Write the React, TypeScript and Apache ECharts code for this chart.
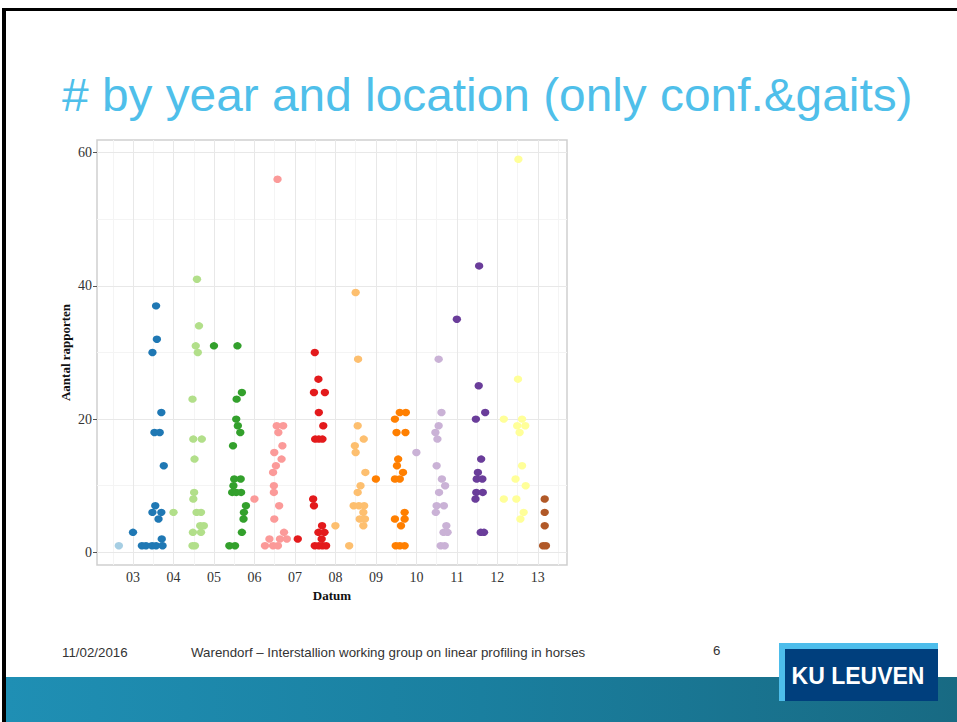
import React, { useEffect, useRef } from 'react';
import * as echarts from 'echarts';

// ---- data (x = date as fractional year, y = Aantal rapporten) ----
const yearCodes = ['02', '03', '04', '05', '06', '07', '08', '09', '10', '11', '12', '13'];

const pts02 = [[2002.65, 1]];
const pts03 = [
  [2003.57, 37], [2003.59, 32], [2003.48, 30], [2003.70, 21], [2003.53, 18], [2003.66, 18],
  [2003.76, 13], [2003.55, 7], [2003.48, 6], [2003.70, 6], [2003.63, 5], [2003.00, 3],
  [2003.71, 2], [2003.22, 1], [2003.32, 1], [2003.47, 1], [2003.57, 1], [2003.73, 1],
];
const pts04 = [
  [2004.58, 41], [2004.63, 34], [2004.55, 31], [2004.60, 30], [2004.47, 23], [2004.49, 17],
  [2004.70, 17], [2004.52, 14], [2004.51, 9], [2004.49, 8], [2004.00, 6], [2004.57, 6],
  [2004.68, 6], [2004.66, 4], [2004.75, 4], [2004.48, 3], [2004.68, 3], [2004.47, 1], [2004.53, 1],
];
const pts05 = [
  [2005.00, 31], [2005.58, 31], [2005.69, 24], [2005.56, 23], [2005.55, 20], [2005.59, 19],
  [2005.65, 18], [2005.47, 16], [2005.50, 11], [2005.66, 11], [2005.48, 10], [2005.45, 9],
  [2005.55, 9], [2005.67, 9], [2005.79, 7], [2005.74, 6], [2005.73, 5], [2005.69, 3],
  [2005.38, 1], [2005.52, 1],
];
const pts06 = [
  [2006.57, 56], [2006.55, 19], [2006.71, 19], [2006.59, 18], [2006.69, 16], [2006.49, 15],
  [2006.67, 14], [2006.53, 13], [2006.46, 12], [2006.48, 10], [2006.48, 9], [2006.00, 8],
  [2006.61, 7], [2006.49, 5], [2006.73, 3], [2006.37, 2], [2006.63, 2], [2006.80, 2],
  [2006.26, 1], [2006.46, 1], [2006.58, 1],
];
const pts07 = [
  [2007.49, 30], [2007.58, 26], [2007.47, 24], [2007.74, 24], [2007.59, 21], [2007.70, 19],
  [2007.50, 17], [2007.59, 17], [2007.68, 17], [2007.45, 8], [2007.47, 7], [2007.67, 4],
  [2007.58, 3], [2007.73, 3], [2007.66, 2], [2007.07, 2], [2007.49, 1], [2007.59, 1],
  [2007.68, 1], [2007.77, 1],
];
const pts08 = [
  [2008.50, 39], [2008.56, 29], [2008.55, 19], [2008.70, 17], [2008.48, 16], [2008.50, 15],
  [2008.74, 12], [2008.62, 10], [2008.55, 9], [2008.45, 7], [2008.58, 7], [2008.71, 7],
  [2008.69, 6], [2008.60, 5], [2008.73, 5], [2008.69, 4], [2008.00, 4], [2008.34, 1],
];
const pts09 = [
  [2009.00, 11], [2009.59, 21], [2009.74, 21], [2009.47, 20], [2009.51, 18], [2009.73, 18],
  [2009.55, 14], [2009.52, 13], [2009.67, 12], [2009.47, 11], [2009.59, 11], [2009.71, 6],
  [2009.47, 5], [2009.71, 5], [2009.62, 4], [2009.49, 1], [2009.59, 1], [2009.71, 1],
];
const pts10 = [
  [2010.55, 29], [2010.62, 21], [2010.55, 19], [2010.47, 18], [2010.52, 17], [2010.00, 15],
  [2010.50, 13], [2010.63, 11], [2010.71, 10], [2010.56, 9], [2010.50, 7], [2010.68, 7],
  [2010.48, 6], [2010.74, 4], [2010.67, 3], [2010.77, 3], [2010.60, 1], [2010.70, 1],
];
const pts11 = [
  [2011.55, 43], [2011.00, 35], [2011.54, 25], [2011.70, 21], [2011.47, 20], [2011.60, 14],
  [2011.52, 12], [2011.49, 11], [2011.63, 11], [2011.48, 9], [2011.64, 9], [2011.46, 8],
  [2011.59, 3], [2011.67, 3],
];
const pts12 = [
  [2012.52, 59], [2012.51, 26], [2012.16, 20], [2012.61, 20], [2012.49, 19], [2012.69, 19],
  [2012.55, 18], [2012.61, 13], [2012.45, 11], [2012.70, 10], [2012.16, 8], [2012.47, 8],
  [2012.65, 6], [2012.57, 5],
];
const pts13 = [[2013.17, 8], [2013.17, 6], [2013.17, 4], [2013.13, 1], [2013.20, 1]];

const seriesPoints = [pts02, pts03, pts04, pts05, pts06, pts07, pts08, pts09, pts10, pts11, pts12, pts13];

const xTicks = [2003, 2004, 2005, 2006, 2007, 2008, 2009, 2010, 2011, 2012, 2013];
const xMinor = [2002.5, 2003.5, 2004.5, 2005.5, 2006.5, 2007.5, 2008.5, 2009.5, 2010.5, 2011.5, 2012.5, 2013.5];
const yTicks = [0, 20, 40, 60];
const yMinor = [10, 30, 50];

// ---- styles ----
const paired = ['#A6CEE3', '#1F78B4', '#B2DF8A', '#33A02C', '#FB9A99', '#E31A1C',
  '#FDBF6F', '#FF7F00', '#CAB2D6', '#6A3D9A', '#FFFF99', '#B15928'];

const SERIF = "'Liberation Serif', 'DejaVu Serif', serif";
const SANS = "'Liberation Sans', Arial, sans-serif";

export default function App() {
  const ref = useRef<HTMLDivElement>(null);
  useEffect(() => {
    if (!ref.current) return;
    const chart = echarts.init(ref.current, null, { renderer: 'svg' });

    const gridLineSeries = {
      type: 'scatter',
      name: 'grid',
      data: [],
      silent: true,
      z: 1,
      markLine: {
        silent: true,
        z: 1,
        symbol: ['none', 'none'],
        label: { show: false },
        emphasis: { disabled: true },
        animation: false,
        data: [
          ...xMinor.map((v) => ({ xAxis: v, lineStyle: { color: '#f4f4f4', width: 1, type: 'solid' } })),
          ...yMinor.map((v) => ({ yAxis: v, lineStyle: { color: '#f4f4f4', width: 1, type: 'solid' } })),
          ...xTicks.map((v) => ({ xAxis: v, lineStyle: { color: '#e8e8e8', width: 1, type: 'solid' } })),
          ...yTicks.map((v) => ({ yAxis: v, lineStyle: { color: '#e8e8e8', width: 1, type: 'solid' } })),
        ],
      },
    };

    const pointSeries = seriesPoints.map((pts, i) => ({
      type: 'scatter',
      name: yearCodes[i],
      data: pts,
      symbol: 'circle',
      symbolSize: [8.4, 7.4],
      z: 10,
      itemStyle: { color: paired[i], opacity: 1 },
      emphasis: { disabled: true },
    }));

    const option: any = {
      animation: false,
      backgroundColor: '#ffffff',
      grid: {
        show: true,
        left: 97,
        top: 140,
        right: 390,
        bottom: 157,
        borderColor: '#cfcfcf',
        borderWidth: 1.5,
        backgroundColor: '#ffffff',
        containLabel: false,
      },
      xAxis: {
        type: 'value',
        min: 2002.11,
        max: 2013.72,
        axisLine: { show: false },
        splitLine: { show: false },
        axisTick: { show: true, customValues: xTicks, length: 4, lineStyle: { color: '#555', width: 1 } },
        axisLabel: {
          customValues: xTicks,
          formatter: (v: number) => String(Math.round(v) % 100).padStart(2, '0'),
          fontFamily: SERIF,
          fontSize: 14,
          color: '#333',
          margin: 5,
        },
        name: 'Datum',
        nameLocation: 'middle',
        nameGap: 19,
        nameTextStyle: { fontFamily: SERIF, fontWeight: 'bold', fontSize: 13, color: '#111', verticalAlign: 'top' },
      },
      yAxis: {
        type: 'value',
        min: -1.9,
        max: 61.9,
        axisLine: { show: false },
        splitLine: { show: false },
        axisTick: { show: true, customValues: yTicks, length: 4, lineStyle: { color: '#555', width: 1 } },
        axisLabel: {
          customValues: yTicks,
          fontFamily: SERIF,
          fontSize: 14,
          color: '#333',
          margin: 5,
        },
        name: 'Aantal rapporten',
        nameLocation: 'middle',
        nameGap: 25,
        nameRotate: 90,
        nameTextStyle: { fontFamily: SERIF, fontWeight: 'bold', fontSize: 13, color: '#111' },
      },
      series: [gridLineSeries, ...pointSeries],
      graphic: [
        // slide frame
        { type: 'rect', left: 2, top: 8, shape: { width: 955, height: 3 }, style: { fill: '#000' }, silent: true },
        { type: 'rect', left: 2, top: 8, shape: { width: 4, height: 714 }, style: { fill: '#000' }, silent: true },
        // title
        {
          type: 'text',
          x: 62,
          y: 95,
          scaleX: 1.04,
          style: {
            text: '# by year and location (only conf.&gaits)',
            font: `46px ${SANS}`,
            fill: '#4FBFEA',
            verticalAlign: 'middle',
            align: 'left',
          },
          silent: true,
        },
        // footer
        {
          type: 'text', x: 62, y: 652,
          style: { text: '11/02/2016', font: `13.3px ${SANS}`, fill: '#333', verticalAlign: 'middle' },
          silent: true,
        },
        {
          type: 'text', x: 191, y: 652,
          style: {
            text: 'Warendorf \u2013 Interstallion working group on linear profiling in horses',
            font: `13.3px ${SANS}`, fill: '#333', verticalAlign: 'middle',
          },
          silent: true,
        },
        {
          type: 'text', x: 713, y: 650,
          style: { text: '6', font: `13.3px ${SANS}`, fill: '#333', verticalAlign: 'middle' },
          silent: true,
        },
        // bottom band
        {
          type: 'rect', x: 6, y: 677, shape: { width: 951, height: 45 },
          style: {
            fill: {
              type: 'linear', x: 0, y: 0, x2: 1, y2: 0,
              colorStops: [
                { offset: 0, color: '#1F8FB4' },
                { offset: 0.5, color: '#1A7F9F' },
                { offset: 1, color: '#186A83' },
              ],
            },
          },
          silent: true,
        },
        // logo
        { type: 'rect', x: 779, y: 643, shape: { width: 159, height: 58 }, style: { fill: '#4DBDEB' }, silent: true, z: 10 },
        { type: 'rect', x: 785, y: 649, shape: { width: 153, height: 52 }, style: { fill: '#003F7D' }, silent: true, z: 11 },
        {
          type: 'text', x: 858, y: 676, z: 12,
          style: {
            text: 'KU LEUVEN', font: `bold 23px ${SANS}`, fill: '#ffffff',
            align: 'center', verticalAlign: 'middle',
          },
          silent: true,
        },
      ],
    };

    chart.setOption(option);
    return () => chart.dispose();
  }, []);

  return (
    <div
      ref={ref}
      style={{ position: 'fixed', left: 0, top: 0, width: 957, height: 722, background: '#fff' }}
    />
  );
}
